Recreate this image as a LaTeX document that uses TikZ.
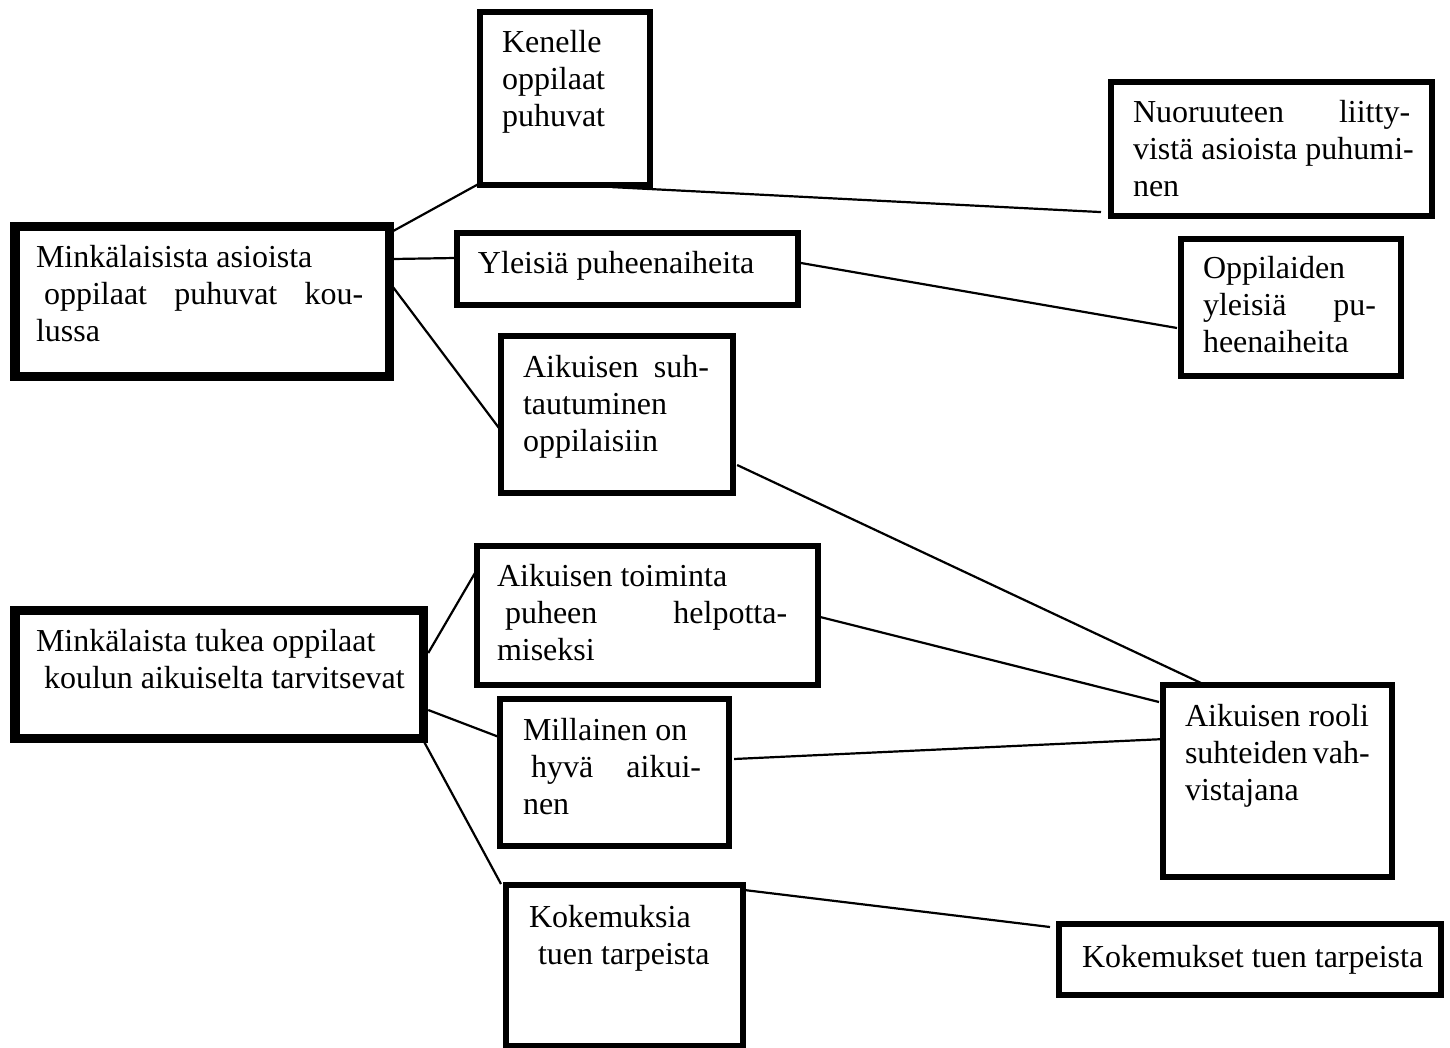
\documentclass[tikz,border=0pt]{standalone}
\usepackage{fontspec}
\setmainfont{Liberation Serif}
\usetikzlibrary{calc}
\tikzset{
  bx/.style={draw, line width=0.055cm, inner sep=0pt, outer sep=0pt, anchor=north west},
  bxthick/.style={bx, line width=0.09cm},
  tx/.style={anchor=base west, inner sep=0pt, outer sep=0pt, font=\fontsize{9.1pt}{10.53pt}\selectfont},
  ln/.style={line width=0.022cm}
}
\begin{document}
\begin{tikzpicture}[x=0.01cm, y=-0.01cm]
\useasboundingbox (0,0) rectangle (1450,1048);
% boxes
\node[bx, minimum width=1.70cm, minimum height=1.73cm] (K) at (480,12) {};
\node[bx, minimum width=3.21cm, minimum height=1.34cm] (N) at (1111,82) {};
\node[bxthick, minimum width=3.74cm, minimum height=1.50cm] (M1) at (15,226) {};
\node[bx, minimum width=3.41cm, minimum height=0.72cm] (Y) at (457,233) {};
\node[bx, minimum width=2.20cm, minimum height=1.37cm] (O) at (1181,239) {};
\node[bx, minimum width=2.32cm, minimum height=1.57cm] (S) at (501,336) {};
\node[bx, minimum width=3.41cm, minimum height=1.39cm] (T) at (477,546) {};
\node[bxthick, minimum width=4.08cm, minimum height=1.28cm] (M2) at (15,610) {};
\node[bx, minimum width=2.29cm, minimum height=1.47cm] (H) at (500,699) {};
\node[bx, minimum width=2.29cm, minimum height=1.92cm] (R) at (1163,685) {};
\node[bx, minimum width=2.37cm, minimum height=1.61cm] (KA) at (506,885) {};
\node[bx, minimum width=3.82cm, minimum height=0.71cm] (KE) at (1059,924) {};
% texts
\node[tx] (Kt) at (502,52) {\parbox[t]{5cm}{Kenelle\\oppilaat\\puhuvat}};
\node[tx] (M1t) at (36,267) {\parbox[t]{5cm}{Minkälaisista asioista\\\hspace*{0.08cm}\makebox[3.19cm][s]{oppilaat puhuvat kou-}\\lussa}};
\node[tx] (Yt) at (478,273) {Yleisiä puheenaiheita};
\node[tx] (St) at (523,377) {\parbox[t]{5cm}{\makebox[1.86cm][s]{Aikuisen suh-}\\tautuminen\\oppilaisiin}};
\node[tx] (Nt) at (1133,122) {\parbox[t]{5cm}{\makebox[2.77cm][s]{Nuoruuteen liitty-}\\vistä asioista puhumi-\\nen}};
\node[tx] (Ot) at (1203,278) {\parbox[t]{5cm}{Oppilaiden\\\makebox[1.73cm][s]{yleisiä pu-}\\heenaiheita}};
\node[tx] (Tt) at (497,586) {\parbox[t]{5cm}{Aikuisen toiminta\\\hspace*{0.08cm}\makebox[2.82cm][s]{puheen helpotta-}\\miseksi}};
\node[tx] (M2t) at (36,651) {\parbox[t]{6cm}{Minkälaista tukea oppilaat\\\hspace*{0.08cm}koulun aikuiselta tarvitsevat}};
\node[tx] (Ht) at (523,740) {\parbox[t]{5cm}{Millainen on\\\hspace*{0.08cm}\makebox[1.70cm][s]{hyvä aikui-}\\nen}};
\node[tx] (KAt) at (529,927) {\parbox[t]{5cm}{Kokemuksia\\\hspace*{0.09cm}tuen tarpeista}};
\node[tx] (Rt) at (1185,726) {\parbox[t]{5cm}{Aikuisen rooli\\\makebox[1.84cm][s]{suhteiden vah-}\\vistajana}};
\node[tx] (KEt) at (1082,967) {Kokemukset tuen tarpeista};
% connectors
\draw[ln] ($(M1.north east)+(4,5)$) -- ($(K.south west)+(2,-3)$);
\draw[ln] ($(K.south east)+(-38,2)$) -- ($(N.south west)+(-10,-4)$);
\draw[ln] ($(M1.north east)+(4,33)$) -- ($(Y.north west)+(-2,25)$);
\draw[ln] ($(Y.north east)+(-3,29)$) -- ($(O.north west)+(-4,89)$);
\draw[ln] ($(M1.north east)+(0,56)$) -- ($(S.north west)+(-2,92)$);
\draw[ln] ($(S.north east)+(4,129)$) -- ($(R.north west)+(38,-2)$);
\draw[ln] ($(M2.north east)+(5,43)$) -- ($(T.north west)+(-2,27)$);
\draw[ln] ($(T.north east)+(2,71)$) -- ($(R.north west)+(-4,17)$);
\draw[ln] ($(M2.north east)+(5,100)$) -- ($(H.north west)+(-1,38)$);
\draw[ln] ($(H.north east)+(5,60)$) -- ($(R.north west)+(2,54)$);
\draw[ln] ($(M2.south east)+(1,4)$) -- ($(KA.north west)+(-5,-1)$);
\draw[ln] ($(KA.north east)+(1,5)$) -- ($(KE.north west)+(-9,3)$);
\end{tikzpicture}
\end{document}
